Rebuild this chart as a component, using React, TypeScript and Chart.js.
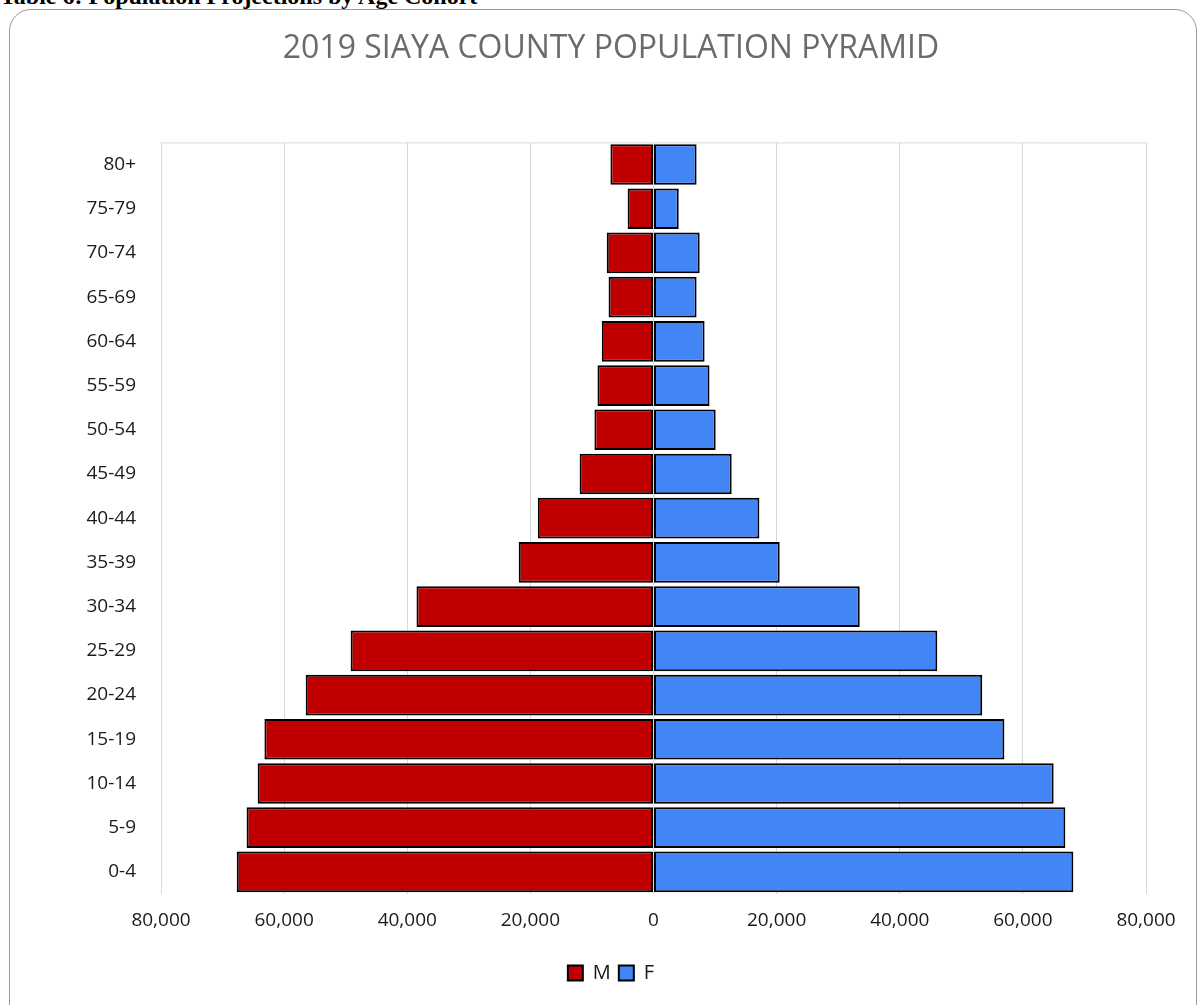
import React, { useEffect, useRef } from "react";
import { Chart, registerables } from "chart.js";

Chart.register(...registerables);

const ageGroups = ["0-4", "5-9", "10-14", "15-19", "20-24", "25-29", "30-34", "35-39", "40-44", "45-49", "50-54", "55-59", "60-64", "65-69", "70-74", "75-79", "80+"];
const maleValues = [67700, 66100, 64300, 63200, 56500, 49200, 38500, 21900, 18800, 12000, 9600, 9100, 8400, 7300, 7600, 4200, 7000];
const femaleValues = [68200, 66900, 65000, 57000, 53400, 46100, 33500, 20500, 17200, 12700, 10100, 9100, 8300, 7000, 7500, 4100, 7000];
const xTickValues = [-80000, -60000, -40000, -20000, 0, 20000, 40000, 60000, 80000];

const chartTitle = "2019 SIAYA COUNTY POPULATION PYRAMID";
const tableHeading = "Table 6: Population Projections by Age Cohort";

const topLinePlugin = {
  id: "topLine",
  afterDraw(chart: any) {
    const { ctx, chartArea } = chart;
    ctx.save();
    ctx.strokeStyle = "#d9d9d9";
    ctx.lineWidth = 1;
    ctx.beginPath();
    ctx.moveTo(chartArea.left, chartArea.top + 0.5);
    ctx.lineTo(chartArea.right, chartArea.top + 0.5);
    ctx.stroke();
    ctx.restore();
  },
};

export default function App() {
  const ref = useRef<HTMLCanvasElement | null>(null);
  useEffect(() => {
    if (!ref.current) return;
    const font = "'Open Sans', 'Liberation Sans', sans-serif";
    const chart = new Chart(ref.current, {
      type: "bar",
      data: {
        labels: ageGroups,
        datasets: [
          {
            label: "M",
            data: maleValues.map((v) => -v),
            backgroundColor: "#C00000",
            borderColor: "#000000",
            borderWidth: 2,
            borderSkipped: false,
            barPercentage: 0.92,
            categoryPercentage: 1,
          },
          {
            label: "F",
            data: femaleValues,
            backgroundColor: "#4285F4",
            borderColor: "#000000",
            borderWidth: 2,
            borderSkipped: false,
            barPercentage: 0.92,
            categoryPercentage: 1,
          },
        ],
      },
      options: {
        indexAxis: "y",
        responsive: false,
        animation: false,
        layout: { padding: { left: 76, right: 58, top: 0, bottom: 12 } },
        scales: {
          x: {
            stacked: true,
            min: -80000,
            max: 80000,
            afterBuildTicks(scale: any) {
              scale.ticks = xTickValues.map((v) => ({ value: v }));
            },
            afterFit(scale: any) {
              scale.height = 61;
            },
            grid: { color: "#d9d9d9", drawTicks: false },
            border: { display: false },
            ticks: {
              padding: 15,
              color: "#1a1a1a",
              font: { family: font, size: 19 },
              callback: (v: any) => Math.abs(Number(v)).toLocaleString("en-US"),
            },
          },
          y: {
            stacked: true,
            reverse: true,
            afterFit(scale: any) {
              scale.width = 85;
            },
            grid: { display: false },
            border: { display: false },
            ticks: {
              padding: 17,
              color: "#1a1a1a",
              font: { family: font, size: 19 },
            },
          },
        },
        plugins: {
          title: {
            display: true,
            text: chartTitle,
            color: "#6b6b6b",
            font: { family: font, size: 32, weight: "normal" },
            padding: { top: 30, bottom: 74 },
          },
          legend: {
            position: "bottom",
            labels: {
              color: "#1a1a1a",
              font: { family: font, size: 20 },
              boxWidth: 15,
              boxHeight: 15,
              padding: 8,
            },
          },
          tooltip: { enabled: false },
        },
      },
      plugins: [topLinePlugin],
    } as any);
    return () => chart.destroy();
  }, []);

  return (
    <div style={{ position: "absolute", left: 0, top: 0, width: 1204, height: 1005, overflow: "hidden", background: "#fff" }}>
      <div
        style={{
          position: "absolute",
          left: 0,
          top: -17,
          fontFamily: "'Liberation Serif', serif",
          fontWeight: "bold",
          fontSize: 24,
          color: "#000",
          whiteSpace: "nowrap",
        }}
      >
        {tableHeading}
      </div>
      <div
        style={{
          position: "absolute",
          left: 9,
          top: 9,
          width: 1188,
          height: 1030,
          border: "1px solid #9a9a9a",
          borderRadius: 22,
          boxSizing: "border-box",
        }}
      />
      <canvas ref={ref} width={1204} height={1005} style={{ position: "absolute", left: 0, top: 0, width: 1204, height: 1005 }} />
    </div>
  );
}
